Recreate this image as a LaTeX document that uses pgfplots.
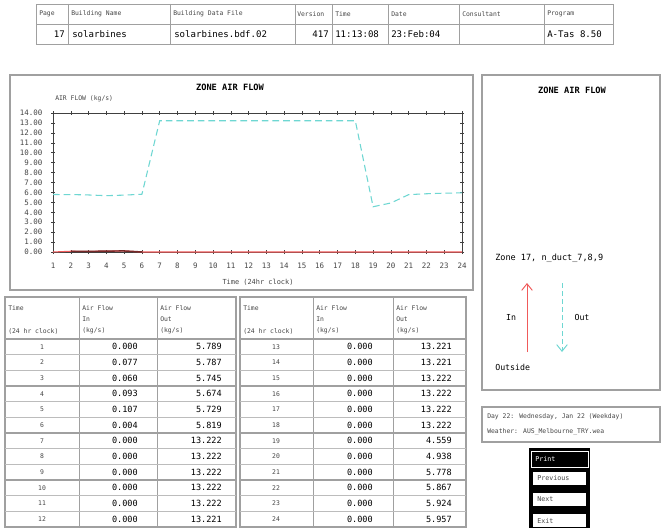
\documentclass[border=0pt]{standalone}
\usepackage{pgfplots}
\usepackage{pgfplotstable}
\pgfplotsset{compat=1.18}
\usepackage{fontspec}
\setmainfont{DejaVu Sans Mono}
\usetikzlibrary{arrows.meta}
\definecolor{inred}{RGB}{240,90,90}
\definecolor{indark}{RGB}{120,40,40}
\definecolor{outcyan}{RGB}{110,215,210}
\definecolor{frm}{RGB}{160,160,160}
\definecolor{txt}{RGB}{70,70,70}
\newcommand{\fs}[1]{\fontsize{#1}{#1}\selectfont}

\pgfplotstableread{
hour in out
1 0.000 5.789
2 0.077 5.787
3 0.060 5.745
4 0.093 5.674
5 0.107 5.729
6 0.004 5.819
7 0.000 13.222
8 0.000 13.222
9 0.000 13.222
10 0.000 13.222
11 0.000 13.222
12 0.000 13.221
13 0.000 13.221
14 0.000 13.221
15 0.000 13.222
16 0.000 13.222
17 0.000 13.222
18 0.000 13.222
19 0.000 4.559
20 0.000 4.938
21 0.000 5.778
22 0.000 5.867
23 0.000 5.924
24 0.000 5.957
}\flowdata

\begin{document}
\begin{tikzpicture}
\useasboundingbox (0,0) rectangle (497.25pt,-396pt);
\fill[white] (0,0) rectangle (497.25pt,-396pt);
\begin{scope}[x=0.75pt,y=-0.75pt]
% ---------- header table ----------
\draw[frm,line width=0.6pt] (36,4) rectangle (613,44);
\draw[frm,line width=0.6pt] (36,24) -- (613,24);
\foreach \xx in {68,170,295,332,388,459,544}
  \draw[frm,line width=0.6pt] (\xx,4) -- (\xx,44);
\begin{scope}[every node/.style={anchor=west,inner sep=0pt,text=txt,font=\fs{4.8}}]
\node at (39,14) {Page};
\node at (71,14) {Building Name};
\node at (173,14) {Building Data File};
\node at (297,14) {Version};
\node at (335,14) {Time};
\node at (391,14) {Date};
\node at (462,14) {Consultant};
\node at (547,14) {Program};
\end{scope}
\begin{scope}[every node/.style={inner sep=0pt,text=black,font=\fs{6.8}}]
\node[anchor=east] at (65,34) {17};
\node[anchor=west] at (72,34) {solarbines};
\node[anchor=west] at (174,34) {solarbines.bdf.02};
\node[anchor=east] at (329,34) {417};
\node[anchor=west] at (335,34) {11:13:08};
\node[anchor=west] at (391,34) {23:Feb:04};
\node[anchor=west] at (547,34) {A-Tas 8.50};
\end{scope}
% ---------- chart panel ----------
\draw[frm,line width=1.1pt] (10,75) rectangle (473,290);
\node[font=\fs{6.5}\bfseries,text=black,inner sep=0pt] at (230,87) {ZONE AIR FLOW};
\node[font=\fs{4.8},text=txt,anchor=west,inner sep=0pt] at (55,99) {AIR FLOW (kg/s)};
\node[font=\fs{5.2},text=txt,inner sep=0pt] at (258,282) {Time (24hr clock)};
% ---------- right panel ----------
\draw[frm,line width=1.1pt] (482,75) rectangle (660,390);
\node[font=\fs{6.5}\bfseries,text=black,inner sep=0pt] at (572,90) {ZONE AIR FLOW};
\node[font=\fs{6.4},text=black,anchor=west,inner sep=0pt] at (495,258) {Zone 17, n\_duct\_7,8,9};
\draw[inred,line width=0.7pt,-{Straight Barb[length=5pt,width=8pt]}] (527,352) -- (527,283);
\draw[outcyan,line width=0.7pt,dash pattern=on 4pt off 2pt,-{Straight Barb[length=5pt,width=8pt]}] (562,283) -- (562,352);
\node[font=\fs{6.2},text=black,inner sep=0pt] at (511,317) {In};
\node[font=\fs{6.2},text=black,inner sep=0pt] at (582,317) {Out};
\node[font=\fs{6.2},text=black,anchor=west,inner sep=0pt] at (495,367) {Outside};
% ---------- info box ----------
\draw[frm,line width=1.1pt] (482,407) rectangle (660,442);
\node[font=\fs{4.8},text=txt,anchor=west,inner sep=0pt] at (487,417) {Day 22: Wednesday, Jan 22 (Weekday)};
\node[font=\fs{4.8},text=txt,anchor=west,inner sep=0pt] at (487,432) {Weather: AUS\_Melbourne\_TRY.wea};
% ---------- buttons ----------
\fill[black] (529,448) rectangle (590,528);
\draw[white,line width=0.5pt] (531,451) rectangle (588,467);
\node[font=\fs{5},text=white,anchor=west,inner sep=0pt] at (535,459) {Print};
\foreach \yy/\lab in {472/Previous,493/Next,514/Exit}{
  \fill[white] (533,\yy) rectangle (586,\yy+13);
  \node[font=\fs{5},text=txt,anchor=west,inner sep=0pt] at (537,\yy+6.5) {\lab};
}
% ---------- data tables ----------
\foreach \L/\R/\ca/\cb in {5/236/79/157, 240/466/313/393}{
  \draw[frm,line width=1.1pt] (\L,297) rectangle (\R,527);
  \draw[frm,line width=0.6pt] (\ca,297) -- (\ca,527);
  \draw[frm,line width=0.6pt] (\cb,297) -- (\cb,527);
  \draw[frm,line width=1pt] (\L,339) -- (\R,339);
  \foreach \k in {1,2,4,5,7,8,10,11}
    \draw[frm!70,line width=0.5pt] (\L,{339+\k*15.67}) -- (\R,{339+\k*15.67});
  \foreach \k in {3,6,9}
    \draw[frm,line width=1.4pt] (\L,{339+\k*15.67}) -- (\R,{339+\k*15.67});
  \begin{scope}[every node/.style={anchor=west,inner sep=0pt,text=txt,font=\fs{4.8}}]
  \node at (\L+3,308) {Time};
  \node at (\L+3,331) {(24 hr clock)};
  \node at (\ca+3,308) {Air Flow};
  \node at (\ca+3,319) {In};
  \node at (\ca+3,331) {(kg/s)};
  \node at (\cb+3,308) {Air Flow};
  \node at (\cb+3,319) {Out};
  \node at (\cb+3,331) {(kg/s)};
  \end{scope}
}
\foreach \t/\a/\b [count=\i from 0] in {1/0.000/5.789,2/0.077/5.787,3/0.060/5.745,4/0.093/5.674,5/0.107/5.729,6/0.004/5.819,7/0.000/13.222,8/0.000/13.222,9/0.000/13.222,10/0.000/13.222,11/0.000/13.222,12/0.000/13.221}{
  \node[font=\fs{4.8},text=txt,inner sep=0pt] at (42,{339+(\i+0.5)*15.67}) {\t};
  \node[font=\fs{6.4},text=black,inner sep=0pt,anchor=east] at (138,{339+(\i+0.5)*15.67}) {\a};
  \node[font=\fs{6.4},text=black,inner sep=0pt,anchor=east] at (222,{339+(\i+0.5)*15.67}) {\b};
}
\foreach \t/\a/\b [count=\i from 0] in {13/0.000/13.221,14/0.000/13.221,15/0.000/13.222,16/0.000/13.222,17/0.000/13.222,18/0.000/13.222,19/0.000/4.559,20/0.000/4.938,21/0.000/5.778,22/0.000/5.867,23/0.000/5.924,24/0.000/5.957}{
  \node[font=\fs{4.8},text=txt,inner sep=0pt] at (276,{339+(\i+0.5)*15.67}) {\t};
  \node[font=\fs{6.4},text=black,inner sep=0pt,anchor=east] at (373,{339+(\i+0.5)*15.67}) {\a};
  \node[font=\fs{6.4},text=black,inner sep=0pt,anchor=east] at (452,{339+(\i+0.5)*15.67}) {\b};
}
\end{scope}
% ---------- chart ----------
\begin{axis}[
  at={(39.75pt,-189pt)}, anchor=south west,
  scale only axis, width=306.75pt, height=104.25pt,
  xmin=1, xmax=24, ymin=0, ymax=14,
  xtick={1,...,24}, ytick={0,...,14},
  tick align=center, major tick length=3pt,
  axis line style={black!75,line width=0.4pt},
  tick style={black!75,line width=0.4pt},
  /pgf/number format/assume math mode=true,
  ticklabel style={font=\fs{5.6},text=txt},
  yticklabel style={/pgf/number format/fixed,/pgf/number format/fixed zerofill,/pgf/number format/precision=2,xshift=-3pt},
  xticklabel style={yshift=-3pt},
  clip=false,
]
\addplot[outcyan, line width=0.8pt, dash pattern=on 5pt off 3pt] table[x=hour,y=out] {\flowdata};
\addplot[inred, line width=0.8pt] table[x=hour,y=in] {\flowdata};
\addplot[indark, line width=1.1pt, restrict x to domain=2:6] table[x=hour,y=in] {\flowdata};
\end{axis}
\end{tikzpicture}
\end{document}
